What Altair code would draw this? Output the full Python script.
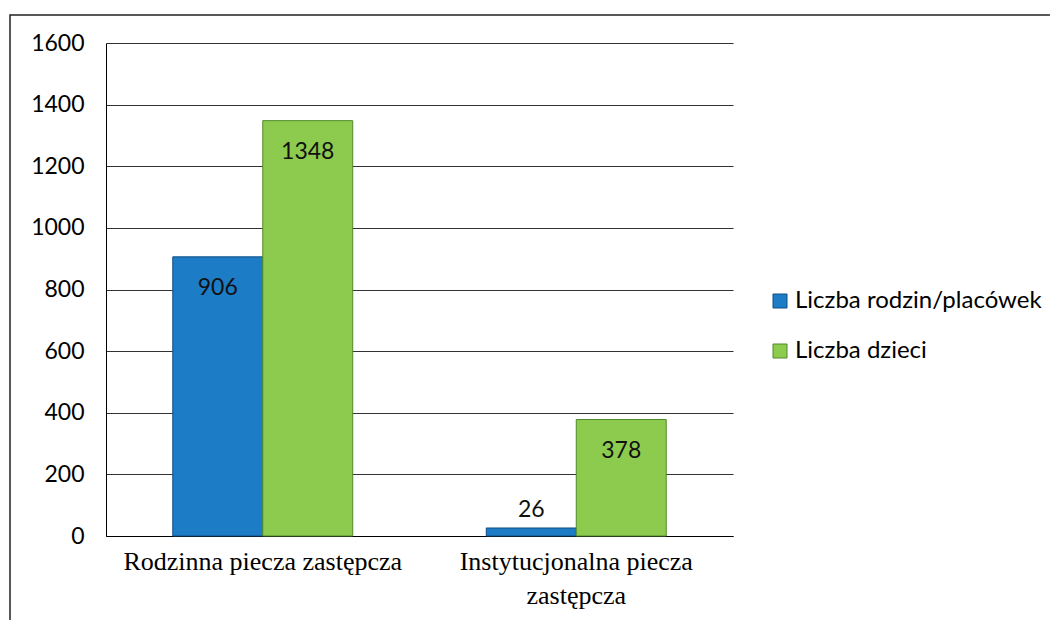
import altair as alt
import pandas as pd

categories = ["Rodzinna piecza zastępcza", "Instytucjonalna piecza zastępcza"]
series = ["Liczba rodzin/placówek", "Liczba dzieci"]
families = [906, 26]
children = [1348, 378]
y_ticks = [0, 200, 400, 600, 800, 1000, 1200, 1400, 1600]
colors = ["#1c7cc6", "#8dcb4f"]
edge_colors = ["#0f4f85", "#4f8a2a"]

rows = []
for i, c in enumerate(categories):
    rows.append({"kategoria": c, "seria": series[0], "wartosc": families[i]})
    rows.append({"kategoria": c, "seria": series[1], "wartosc": children[i]})
df = pd.DataFrame(rows)

W, H = 627, 493

x_enc = alt.X(
    "kategoria:N",
    sort=categories,
    scale=alt.Scale(paddingInner=0.426, paddingOuter=0.213),
    axis=alt.Axis(
        title=None, labelAngle=0, ticks=False, domainColor="black", domainWidth=1,
        labelFont="Liberation Serif", labelFontSize=26, labelColor="black",
        labelPadding=12, labelLineHeight=34, labelLimit=500,
        labelExpr="datum.label == 'Instytucjonalna piecza zastępcza' ? ['Instytucjonalna piecza', 'zastępcza'] : datum.label",
    ),
)
y_enc = alt.Y(
    "wartosc:Q",
    scale=alt.Scale(domain=[0, 1600], nice=False),
    axis=alt.Axis(
        title=None, values=y_ticks, format="d", ticks=False, domainColor="black", domainWidth=1,
        gridColor="#333333", gridWidth=1, labelFont="Lato", labelFontSize=23,
        labelColor="black", labelPadding=22,
    ),
)
xoff = alt.XOffset("seria:N", sort=series, scale=alt.Scale(paddingInner=0, paddingOuter=0))

bars = alt.Chart(df).mark_bar(strokeWidth=1).encode(
    x=x_enc,
    xOffset=xoff,
    y=y_enc,
    color=alt.Color(
        "seria:N", sort=series,
        scale=alt.Scale(domain=series, range=colors),
        legend=alt.Legend(
            title=None, orient="none", legendX=662, legendY=246,
            labelFont="Lato", labelFontSize=24, labelColor="black", labelLimit=400,
            symbolType="square", symbolSize=196, symbolStrokeWidth=1,
            rowPadding=26, labelOffset=3,
        ),
    ),
    stroke=alt.Stroke("seria:N", sort=series, scale=alt.Scale(domain=series, range=edge_colors), legend=None),
)

labels_in = alt.Chart(df).transform_filter("datum.wartosc >= 100").mark_text(
    font="Lato", fontSize=23, color="#111111", baseline="middle", dy=31
).encode(x=alt.X("kategoria:N", sort=categories), xOffset=xoff, y="wartosc:Q", text="wartosc:Q")

labels_out = alt.Chart(df).transform_filter("datum.wartosc < 100").mark_text(
    font="Lato", fontSize=23, color="#111111", baseline="middle", dy=-18
).encode(x=alt.X("kategoria:N", sort=categories), xOffset=xoff, y="wartosc:Q", text="wartosc:Q")

border = alt.Chart(pd.DataFrame({"a": [0]})).mark_rect(
    filled=False, stroke="#222222", strokeWidth=1.5
).encode(x=alt.value(-96), x2=alt.value(1100), y=alt.value(-28), y2=alt.value(800))

chart = alt.layer(border, bars, labels_in, labels_out).properties(
    width=W, height=H,
    padding={"left": 98, "top": 35, "right": 317, "bottom": 84},
    autosize=alt.AutoSizeParams(type="none"),
    background="white",
).configure_view(stroke="transparent")

chart.save("out.html", embed_options={"renderer": "svg", "actions": False})
